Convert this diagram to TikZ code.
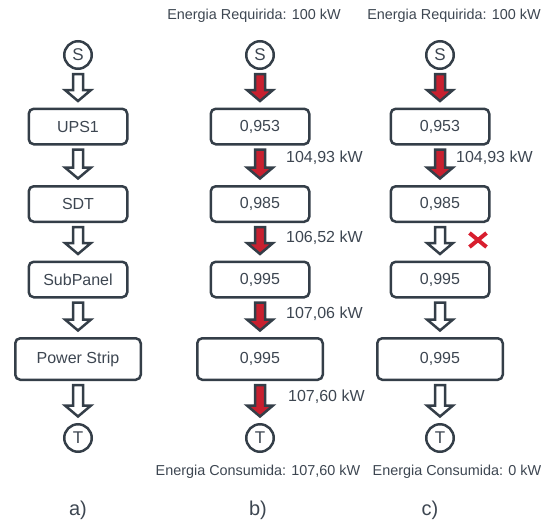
\documentclass[tikz,border=0pt]{standalone}
\usepackage{fontspec}
\setmainfont{Liberation Sans}
\usetikzlibrary{calc,shapes.misc}
\definecolor{linegray}{HTML}{343E48}
\definecolor{textgray}{HTML}{3D4651}
\definecolor{flowred}{HTML}{C8202F}
\definecolor{cutred}{HTML}{D81E2E}
\tikzset{
  unit/.style={draw=linegray,line width=2.5pt,rounded corners=5pt,fill=white,
    text=textgray,font=\fontsize{16}{19}\selectfont,
    minimum width=98.5pt,minimum height=35.5pt,inner sep=0pt},
  wideunit/.style={unit,minimum width=125.5pt,minimum height=41.5pt},
  terminal/.style={circle,draw=linegray,line width=2.5pt,fill=white,text=textgray,
    minimum size=27.5pt,inner sep=0pt,font=\fontsize{17}{20}\selectfont},
  flowline/.style={draw=linegray,line width=2.5pt,line join=miter},
  powerlabel/.style={anchor=west,text=textgray,inner sep=0pt,
    font=\fontsize{16}{19}\selectfont},
  energylabel/.style={text=textgray,inner sep=0pt,font=\fontsize{14.4}{17}\selectfont},
  caselabel/.style={text=textgray,inner sep=0pt,font=\fontsize{20}{24}\selectfont}
}
% block arrow from one node down to the next
\newcommand{\flowarrow}[3][white]{%
  \path[flowline,fill=#1] let \p1=(#2.south), \p2=(#3.north) in
    (\x1-5pt,\y1-4pt) -- (\x1+5pt,\y1-4pt) -- (\x1+5pt,\y2+17.5pt)
    -- (\x1+13pt,\y2+17.5pt) -- (\x1,\y2+6.5pt) -- (\x1-13pt,\y2+17.5pt)
    -- (\x1-5pt,\y2+17.5pt) -- cycle;}

\begin{document}
\begin{tikzpicture}[x=1pt,y=-1pt]
  \useasboundingbox (0,0) rectangle (542,523);

  % a) chain
  \node[terminal] (sa) at (78,55) {S};
  \node[unit] (upsa) at (78,126.5) {UPS1};
  \node[unit] (sdta) at (78,204) {SDT};
  \node[unit] (suba) at (78,279.5) {SubPanel};
  \node[wideunit] (stripa) at (78,359) {Power Strip};
  \node[terminal] (ta) at (78,438) {T};
  \flowarrow{sa}{upsa}
  \flowarrow{upsa}{sdta}
  \flowarrow{sdta}{suba}
  \flowarrow{suba}{stripa}
  \flowarrow{stripa}{ta}
  \node[caselabel] (casea) at (78,510) {a)};

  % b) all units working
  \node[energylabel] (reqb) at (254,16) {Energia Requirida: 100 kW};
  \node[terminal] (sb) at (260,55) {S};
  \node[unit] (upsb) at (260,126.5) {0,953};
  \node[unit] (sdtb) at (260,204) {0,985};
  \node[unit] (subb) at (260,279.5) {0,995};
  \node[wideunit] (stripb) at (260,359) {0,995};
  \node[terminal] (tb) at (260,438) {T};
  \flowarrow[flowred]{sb}{upsb}
  \flowarrow[flowred]{upsb}{sdtb}
  \flowarrow[flowred]{sdtb}{subb}
  \flowarrow[flowred]{subb}{stripb}
  \flowarrow[flowred]{stripb}{tb}
  \node[powerlabel] (pb1) at ($(upsb.south)+(26,12)$) {104,93 kW};
  \node[powerlabel] (pb2) at ($(sdtb.south)+(26,15)$) {106,52 kW};
  \node[powerlabel] (pb3) at ($(subb.south)+(26,15.5)$) {107,06 kW};
  \node[powerlabel] (pb4) at ($(stripb.south)+(28,16)$) {107,60 kW};
  \node[energylabel] (conb) at (258,472) {Energia Consumida: 107,60 kW};
  \node[caselabel] (caseb) at (258,510) {b)};

  % c) SDT failure
  \node[energylabel] (reqc) at (454,16) {Energia Requirida: 100 kW};
  \node[terminal] (sc) at (440,55) {S};
  \node[unit] (upsc) at (440,126.5) {0,953};
  \node[unit] (sdtc) at (440,204) {0,985};
  \node[unit] (subc) at (440,279.5) {0,995};
  \node[wideunit] (stripc) at (440,359) {0,995};
  \node[terminal] (tc) at (440,438) {T};
  \flowarrow[flowred]{sc}{upsc}
  \flowarrow[flowred]{upsc}{sdtc}
  \flowarrow{sdtc}{subc}
  \flowarrow{subc}{stripc}
  \flowarrow{stripc}{tc}
  \node[powerlabel] (pc1) at ($(upsc.south)+(16,12)$) {104,93 kW};
  \node[cross out,draw=cutred,line width=4pt,minimum width=13pt,
    minimum height=10pt,inner sep=0pt] (cut) at (478,240) {};
  \node[energylabel] (conc) at (457,472) {Energia Consumida: 0 kW};
  \node[caselabel] (casec) at (430,510) {c)};
\end{tikzpicture}
\end{document}
